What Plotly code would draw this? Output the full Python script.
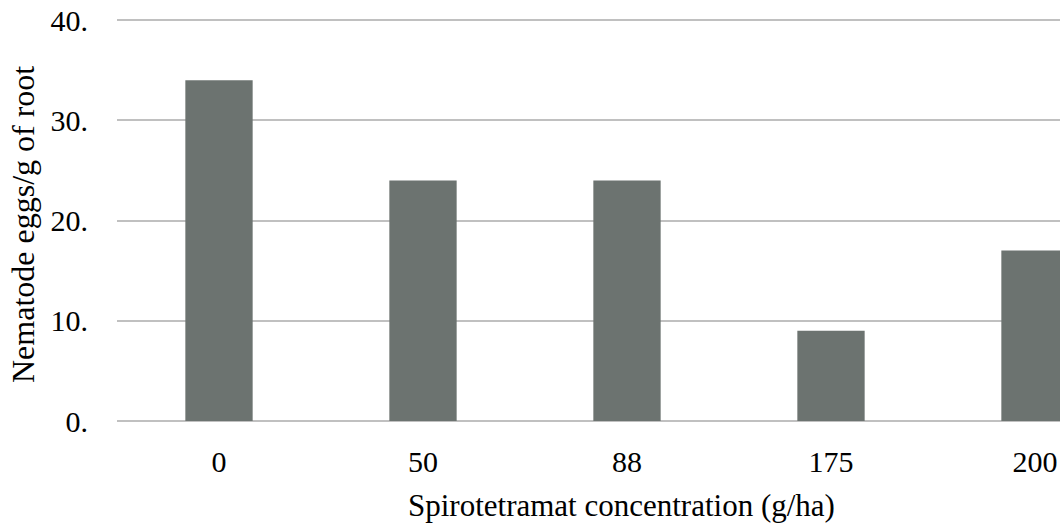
import plotly.graph_objects as go

categories = ["0", "50", "88", "175", "200"]
values = [34, 24, 24, 9, 17]
y_tick_vals = [0, 10, 20, 30, 40]
y_tick_text = ["0.", "10.", "20.", "30.", "40."]
x_title = "Spirotetramat concentration (g/ha)"
y_title = "Nematode eggs/g of root"

FONT = "Liberation Serif, Times New Roman, serif"

fig = go.Figure(go.Bar(x=categories, y=values, marker=dict(color="#6c7370", line=dict(width=0))))

W, H = 1060, 523
L, T, B = 117, 10, H - 421
PW, PH = W - L, H - T - B

fig.update_layout(
    width=W, height=H,
    margin=dict(l=L, r=0, t=T, b=B),
    paper_bgcolor="white", plot_bgcolor="white",
    bargap=0.67,
    showlegend=False,
    font=dict(family=FONT, size=30, color="#000000"),
)
fig.update_xaxes(
    type="category",
    range=[-0.5, -0.5 + PW / 204],
    showgrid=False, showline=False, ticks="",
    ticklabelstandoff=20,
    ticklabeloverflow="allow",
    tickfont=dict(family=FONT, size=30),
)
fig.update_yaxes(
    range=[0, 41],
    tickvals=y_tick_vals, ticktext=y_tick_text,
    showgrid=True, gridcolor="#c0c0c0", gridwidth=2,
    zeroline=True, zerolinecolor="#c0c0c0", zerolinewidth=2,
    showline=False, ticks="",
    ticklabelstandoff=28,
    ticklabeloverflow="allow",
    tickfont=dict(family=FONT, size=30),
)
fig.add_annotation(
    text=x_title, xref="paper", yref="paper",
    x=(621 - L) / PW, y=-(505 - 421) / PH, xanchor="center", yanchor="middle",
    showarrow=False, font=dict(family=FONT, size=31, color="#000000"),
)
fig.add_annotation(
    text=y_title, xref="paper", yref="paper", textangle=-90,
    x=(23 - L) / PW, y=(421 - 225) / PH, xanchor="center", yanchor="middle",
    showarrow=False, font=dict(family=FONT, size=32, color="#000000"),
)

fig.write_html(
    "out.html",
    config={"displayModeBar": False},
    post_script="document.body.style.margin='0';document.body.style.overflow='hidden';",
)
